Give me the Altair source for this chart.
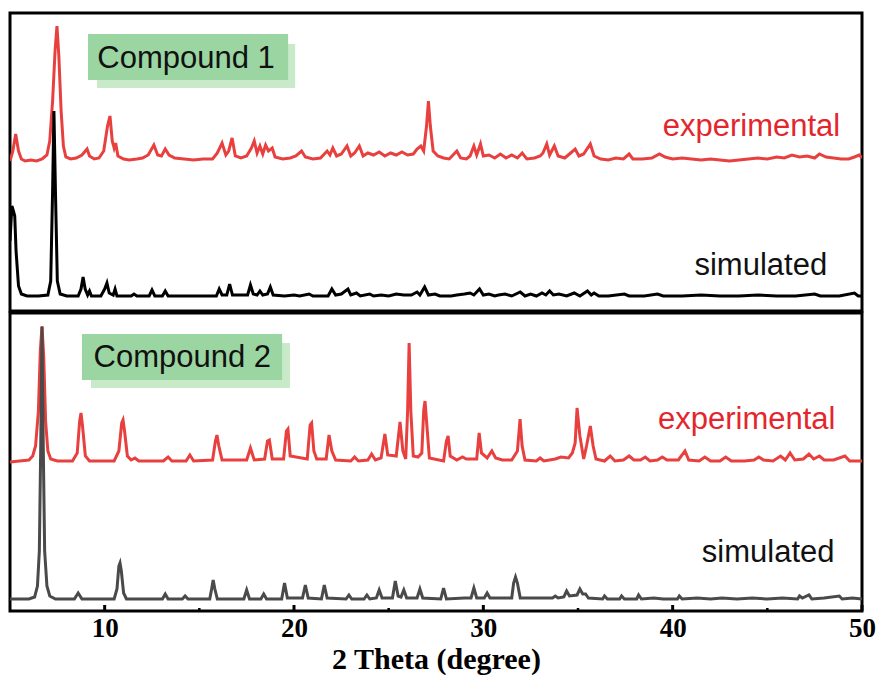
import altair as alt
import pandas as pd

# ---------------- data (2θ in degree, intensity in a.u., stacked offsets) ----------------
c1_exp = [(5.0, 150), (5.15, 160), (5.3, 177), (5.45, 160), (5.6, 152), (5.8, 150), (6.1, 151), (6.4, 150),
          (6.7, 152), (6.95, 156), (7.1, 170), (7.25, 210), (7.38, 260), (7.48, 285), (7.58, 255), (7.7, 200),
          (7.82, 165), (7.95, 154), (8.2, 152), (8.5, 153), (8.8, 156), (9.07, 162), (9.2, 155), (9.45, 152),
          (9.7, 153), (9.95, 160), (10.15, 185), (10.28, 195), (10.4, 170), (10.5, 163), (10.58, 168), (10.7, 155),
          (11.0, 152), (11.3, 151), (11.7, 152), (12.0, 153), (12.3, 156), (12.6, 166), (12.8, 156), (13.0, 155),
          (13.2, 162), (13.4, 156), (13.7, 153), (14.2, 152), (14.7, 151), (15.2, 152), (15.7, 152), (15.95, 158),
          (16.2, 168), (16.4, 156), (16.55, 160), (16.73, 173), (16.9, 155), (17.2, 153), (17.5, 155), (17.75, 163),
          (17.9, 170), (18.05, 158), (18.2, 165), (18.35, 157), (18.5, 166), (18.65, 160), (18.85, 163), (19.0, 154),
          (19.4, 152), (19.8, 153), (20.1, 155), (20.4, 160), (20.6, 154), (21.0, 152), (21.4, 153), (21.75, 160),
          (21.9, 156), (22.05, 163), (22.25, 155), (22.5, 157), (22.8, 165), (23.0, 155), (23.2, 158), (23.45, 165),
          (23.65, 155), (23.9, 158), (24.2, 156), (24.5, 159), (24.8, 155), (25.1, 158), (25.4, 156), (25.7, 159),
          (26.0, 156), (26.3, 157), (26.5, 162), (26.7, 165), (26.85, 160), (27.0, 185), (27.1, 210), (27.2, 185),
          (27.35, 160), (27.6, 155), (27.9, 153), (28.2, 152), (28.6, 160), (28.8, 153), (29.1, 152), (29.3, 155),
          (29.5, 165), (29.65, 156), (29.85, 167), (30.0, 155), (30.3, 156), (30.6, 153), (30.9, 157), (31.2, 153),
          (31.5, 156), (31.8, 153), (32.05, 158), (32.3, 152), (32.7, 153), (33.0, 155), (33.15, 158), (33.35, 167),
          (33.5, 156), (33.75, 165), (33.95, 155), (34.3, 153), (34.55, 157), (34.85, 162), (35.05, 155), (35.3, 157),
          (35.65, 167), (35.85, 155), (36.2, 152), (36.6, 151), (37.0, 153), (37.4, 152), (37.7, 157), (37.9, 152),
          (38.4, 152), (38.9, 153), (39.3, 157), (39.6, 154), (40.0, 152), (40.5, 153), (41.0, 152), (41.5, 151),
          (42.0, 152), (42.5, 151), (43.0, 150), (43.5, 151), (44.0, 152), (44.5, 153), (45.0, 152), (45.5, 154),
          (45.9, 153), (46.3, 156), (46.7, 154), (47.1, 155), (47.5, 153), (47.75, 157), (48.1, 154), (48.5, 153),
          (48.9, 152), (49.3, 152), (49.6, 154), (49.85, 156), (50.0, 153)]

c1_sim = [(5.0, 70), (5.1, 105), (5.18, 100), (5.25, 95), (5.32, 60), (5.45, 25), (5.6, 17), (5.9, 15), (6.5, 15),
          (7.0, 16), (7.15, 30), (7.25, 120), (7.32, 200), (7.4, 120), (7.5, 30), (7.65, 17), (8.0, 15), (8.6, 15),
          (8.75, 22), (8.86, 34), (8.97, 22), (9.1, 16), (9.2, 20), (9.3, 15), (9.8, 15), (10.0, 22), (10.12, 28),
          (10.24, 18), (10.45, 16), (10.55, 22), (10.65, 15), (11.4, 15), (11.55, 17), (11.7, 15), (12.35, 15),
          (12.5, 21), (12.65, 15), (13.05, 15), (13.2, 20), (13.35, 15), (15.9, 15), (16.05, 22), (16.2, 16),
          (16.45, 16), (16.6, 27), (16.75, 16), (17.55, 16), (17.7, 26), (17.85, 17), (18.05, 16), (18.2, 20),
          (18.35, 16), (18.6, 17), (18.75, 24), (18.9, 16), (19.5, 15), (20.0, 16), (20.3, 15), (20.8, 17),
          (21.0, 15), (21.8, 15), (22.0, 22), (22.2, 16), (22.5, 17), (22.85, 22), (23.0, 16), (23.3, 18),
          (23.5, 15), (24.0, 17), (24.2, 15), (24.6, 16), (25.0, 15), (25.4, 17), (25.8, 16), (26.2, 16),
          (26.5, 19), (26.65, 16), (26.9, 24), (27.1, 16), (27.45, 17), (27.7, 15), (28.3, 15), (28.6, 16),
          (29.0, 17), (29.3, 18), (29.5, 16), (29.8, 22), (30.0, 16), (30.3, 17), (30.6, 15), (30.8, 16),
          (31.15, 17), (31.5, 15), (31.95, 19), (32.2, 15), (32.5, 17), (32.8, 15), (33.1, 18), (33.3, 16),
          (33.5, 20), (33.7, 16), (34.0, 17), (34.4, 15), (34.8, 18), (35.1, 15), (35.5, 20), (35.7, 16),
          (35.85, 18), (36.1, 15), (36.6, 15), (37.45, 17), (37.7, 15), (38.5, 15), (39.2, 17), (39.5, 15),
          (40.5, 15), (41.5, 16), (42.5, 15), (43.5, 15), (44.5, 16), (45.5, 15), (46.5, 15), (47.5, 17),
          (47.8, 15), (48.8, 15), (49.6, 18), (49.8, 15), (50.0, 15)]

c2_exp = [(5.0, 149), (5.5, 150), (6.0, 151), (6.2, 155), (6.35, 165), (6.5, 200), (6.6, 260), (6.69, 285),
          (6.78, 255), (6.88, 190), (7.0, 160), (7.15, 152), (7.5, 150), (8.3, 150), (8.55, 158), (8.68, 190),
          (8.75, 198), (8.83, 185), (8.98, 155), (9.2, 150), (10.5, 150), (10.75, 160), (10.9, 188), (10.97, 191),
          (11.05, 180), (11.2, 155), (11.4, 151), (11.6, 153), (11.8, 150), (13.1, 150), (13.35, 154), (13.55, 150),
          (14.3, 150), (14.5, 156), (14.7, 150), (15.7, 151), (15.85, 170), (15.93, 176), (16.03, 165), (16.2, 151),
          (17.5, 151), (17.7, 163), (17.9, 151), (18.45, 152), (18.6, 170), (18.7, 171), (18.85, 152), (19.45, 152),
          (19.6, 180), (19.68, 182), (19.8, 155), (20.7, 152), (20.85, 186), (20.93, 188), (21.05, 160), (21.2, 152),
          (21.7, 152), (21.85, 176), (22.0, 160), (22.2, 151), (23.0, 150), (23.2, 154), (23.4, 150), (23.9, 151),
          (24.1, 157), (24.3, 151), (24.6, 153), (24.8, 177), (24.95, 156), (25.4, 155), (25.6, 189), (25.75, 160),
          (25.9, 152), (26.0, 200), (26.08, 268), (26.17, 200), (26.3, 155), (26.55, 154), (26.75, 158), (26.85, 200),
          (26.92, 210), (27.0, 190), (27.15, 153), (27.9, 150), (28.05, 170), (28.14, 175), (28.25, 155), (28.6, 151),
          (28.9, 154), (29.1, 152), (29.65, 152), (29.78, 178), (29.9, 158), (30.2, 153), (30.45, 160), (30.65, 153),
          (31.0, 151), (31.5, 151), (31.8, 160), (31.94, 192), (32.05, 165), (32.2, 151), (32.8, 150), (33.0, 153),
          (33.2, 150), (33.8, 152), (34.1, 154), (34.5, 153), (34.7, 158), (34.85, 168), (34.95, 203), (35.1, 175),
          (35.3, 152), (35.45, 165), (35.65, 185), (35.8, 165), (35.95, 152), (36.4, 150), (36.7, 155), (36.95, 150),
          (37.4, 151), (37.7, 155), (37.95, 151), (38.3, 151), (38.55, 154), (38.8, 150), (39.2, 151), (39.45, 154),
          (39.7, 151), (40.3, 151), (40.65, 160), (40.85, 151), (41.4, 150), (41.7, 154), (42.0, 150), (42.5, 150),
          (42.8, 154), (43.1, 150), (43.8, 150), (44.3, 151), (44.55, 154), (44.8, 151), (45.3, 150), (45.7, 155),
          (45.95, 151), (46.2, 158), (46.45, 151), (46.9, 152), (47.2, 157), (47.45, 152), (47.75, 155), (48.0, 151),
          (48.5, 151), (49.1, 155), (49.35, 150), (49.7, 150), (50.0, 150)]

c2_sim = [(5.0, 12), (6.0, 12), (6.3, 14), (6.45, 25), (6.55, 60), (6.62, 160), (6.69, 284), (6.76, 160),
          (6.83, 60), (6.95, 25), (7.1, 15), (7.4, 12), (8.4, 12), (8.6, 18), (8.8, 12), (10.5, 12), (10.65, 22),
          (10.75, 45), (10.81, 48), (10.88, 40), (11.0, 18), (11.15, 12), (13.05, 12), (13.2, 17), (13.35, 12),
          (14.1, 12), (14.25, 15), (14.4, 12), (15.55, 12), (15.65, 22), (15.73, 31), (15.82, 22), (15.95, 12),
          (17.35, 12), (17.5, 21), (17.65, 12), (18.25, 12), (18.4, 17), (18.55, 12), (19.35, 12), (19.5, 28),
          (19.65, 13), (20.45, 13), (20.6, 26), (20.75, 13), (21.45, 12), (21.6, 26), (21.75, 13), (22.75, 12),
          (22.9, 16), (23.05, 12), (23.7, 12), (23.85, 16), (24.0, 12), (24.35, 13), (24.5, 21), (24.65, 13),
          (25.2, 13), (25.35, 30), (25.5, 15), (25.65, 14), (25.8, 21), (25.95, 13), (26.5, 13), (26.65, 22),
          (26.8, 13), (27.75, 12), (27.9, 23), (28.05, 12), (29.0, 13), (29.35, 13), (29.5, 23), (29.65, 13),
          (30.05, 13), (30.2, 18), (30.35, 13), (31.5, 13), (31.6, 28), (31.7, 34), (31.8, 28), (31.95, 13),
          (33.65, 13), (33.8, 15), (33.95, 13), (34.25, 14), (34.4, 20), (34.55, 15), (34.95, 16), (35.1, 22),
          (35.25, 17), (35.4, 17), (35.55, 13), (36.3, 12), (36.4, 15), (36.55, 12), (37.2, 12), (37.3, 15),
          (37.45, 12), (38.1, 12), (38.2, 16), (38.35, 12), (39.0, 13), (39.5, 12), (40.25, 12), (40.35, 15),
          (40.5, 12), (41.3, 13), (42.0, 12), (42.6, 13), (43.4, 12), (44.2, 13), (45.0, 12), (45.8, 13),
          (46.6, 12), (46.7, 15), (46.85, 13), (47.2, 16), (47.35, 12), (48.0, 13), (48.8, 15), (48.95, 12),
          (49.5, 13), (50.0, 12)]

major_ticks = [10, 20, 30, 40, 50]
minor_ticks = [15, 25, 35, 45]

panel_titles = ["Compound 1", "Compound 2"]
# label boxes (main and shadow) in data units: x, x2 (2θ), y, y2 (intensity)
box_main = [(9.12, 19.69, 231, 277), (8.80, 19.37, 231, 277)]
box_shadow = [(9.60, 20.06, 223, 267), (9.28, 19.79, 223, 268)]
title_pos = [(14.3, 243), (14.1, 244)]
# curve labels: (text, x, y, colour)
curve_labels = [
    [("experimental", 48.85, 175, "#e3262d"), ("simulated", 48.16, 36, "#111111")],
    [("experimental", 48.6, 182, "#e3262d"), ("simulated", 48.55, 49, "#111111")],
]

RED = "#e8403f"
SIM_COLORS = ["#000000", "#4a4a4a"]

W, H = 852, 298
xscale = alt.Scale(domain=[5, 50], nice=False, zero=False)
yscale = alt.Scale(domain=[0, H], nice=False, zero=False)


def df(points):
    return pd.DataFrame({"x": [p[0] for p in points], "y": [p[1] for p in points]})


def panel(i, exp, sim, show_axis):
    if show_axis:
        xaxis = alt.Axis(values=major_ticks, title="2 Theta (degree)", domain=False, ticks=False, tickSize=0,
                         grid=False, labelFlush=False, labelFont="Liberation Serif", labelFontWeight="bold",
                         labelFontSize=27, labelColor="black", labelPadding=4, format="d",
                         titleFont="Liberation Serif", titleFontWeight="bold", titleFontSize=30,
                         titleColor="black", titlePadding=3)
    else:
        xaxis = None
    base_x = alt.X("x:Q", scale=xscale, axis=xaxis)
    base_y = alt.Y("y:Q", scale=yscale, axis=None)

    exp_line = alt.Chart(df(exp)).mark_line(color=RED, strokeWidth=3, clip=True).encode(
        x=base_x, y=base_y)
    sim_line = alt.Chart(df(sim)).mark_line(color=SIM_COLORS[i], strokeWidth=3, clip=True).encode(
        x=alt.X("x:Q", scale=xscale), y=alt.Y("y:Q", scale=yscale))

    sx, sx2, sy, sy2 = box_shadow[i]
    mx, mx2, my, my2 = box_main[i]
    shadow = alt.Chart(pd.DataFrame({"x": [sx], "x2": [sx2], "y": [sy], "y2": [sy2]})).mark_rect(
        color="#c8eac9").encode(x=alt.X("x:Q", scale=xscale), x2="x2:Q", y=alt.Y("y:Q", scale=yscale), y2="y2:Q")
    main = alt.Chart(pd.DataFrame({"x": [mx], "x2": [mx2], "y": [my], "y2": [my2]})).mark_rect(
        color="#9bd6a2").encode(x=alt.X("x:Q", scale=xscale), x2="x2:Q", y=alt.Y("y:Q", scale=yscale), y2="y2:Q")
    tx, ty = title_pos[i]
    title = alt.Chart(pd.DataFrame({"x": [tx], "y": [ty], "t": [panel_titles[i]]})).mark_text(
        font="Liberation Sans", fontSize=31, color="#111111", align="center", baseline="alphabetic").encode(
        x=alt.X("x:Q", scale=xscale), y=alt.Y("y:Q", scale=yscale), text="t:N")

    lab = pd.DataFrame(curve_labels[i], columns=["t", "x", "y", "c"])
    labels = alt.Chart(lab).mark_text(font="Liberation Sans", fontSize=31, align="right",
                                      baseline="alphabetic").encode(
        x=alt.X("x:Q", scale=xscale), y=alt.Y("y:Q", scale=yscale), text="t:N",
        color=alt.Color("c:N", scale=None))

    layers = [exp_line, sim_line, shadow, main, title, labels]
    if show_axis:
        maj = alt.Chart(pd.DataFrame({"x": major_ticks})).mark_rule(color="black", strokeWidth=3).encode(
            x=alt.X("x:Q", scale=xscale), y=alt.value(H), y2=alt.value(H - 6))
        mnr = alt.Chart(pd.DataFrame({"x": minor_ticks})).mark_rule(color="black", strokeWidth=2.5).encode(
            x=alt.X("x:Q", scale=xscale), y=alt.value(H), y2=alt.value(H - 3))
        layers += [maj, mnr]
    return alt.layer(*layers).properties(width=W, height=H)


top = panel(0, c1_exp, c1_sim, False)
bottom = panel(1, c2_exp, c2_sim, True)

chart = alt.vconcat(top, bottom, spacing=-3).properties(
    padding={"left": 8, "top": 11, "right": 4, "bottom": 0},
    background="white",
).configure_view(stroke="black", strokeWidth=3)

chart.save("out.html", embed_options={"renderer": "svg", "actions": False})
